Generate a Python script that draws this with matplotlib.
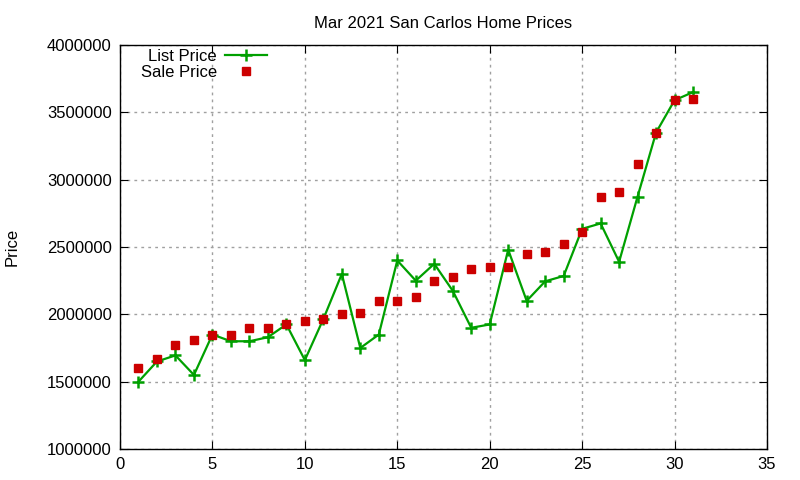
import numpy as np
import matplotlib
matplotlib.use("Agg")
import matplotlib.pyplot as plt

plt.rcParams['font.family'] = ['Liberation Sans', 'DejaVu Sans']

# Data ------------------------------------------------------------------------
days = list(range(1, 32))
listPrice = [1500000, 1650000, 1695000, 1550000, 1850000, 1800000, 1800000,
             1830000, 1925000, 1660000, 1965000, 2300000, 1750000, 1850000,
             2400000, 2250000, 2375000, 2175000, 1900000, 1925000, 2480000,
             2100000, 2245000, 2285000, 2635000, 2675000, 2390000, 2875000,
             3350000, 3590000, 3650000]
salePrice = [1600000, 1670000, 1775000, 1810000, 1850000, 1850000, 1900000,
             1900000, 1925000, 1950000, 1965000, 2000000, 2010000, 2100000,
             2100000, 2130000, 2250000, 2275000, 2335000, 2350000, 2350000,
             2450000, 2460000, 2525000, 2615000, 2875000, 2905000, 3120000,
             3350000, 3590000, 3600000]

xTicks = np.arange(0, 36, 5)
yTicks = np.arange(1000000, 4000001, 500000)

# Plot ------------------------------------------------------------------------
fig = plt.figure(figsize=(8, 4.8), dpi=100)
ax = fig.add_axes([120/800, 1 - 449/480, (767-120)/800, (449-45)/480])

ax.plot(days, listPrice, color='#00a000', lw=1.6, marker='+', ms=8, mew=1.8,
        label='List Price')
ax.plot(days, salePrice, color='#cc0000', ls='none', marker='s', ms=6,
        label='Sale Price')

ax.set_xlim(0, 35)
ax.set_ylim(1000000, 4000000)
ax.set_xticks(xTicks)
ax.set_yticks(yTicks)
ax.set_yticklabels([str(v) for v in yTicks])
ax.tick_params(direction='in', top=True, right=True, labelsize=12, length=6,
               pad=6)
ax.grid(True, color='#a0a0a0', ls=(0, (2, 3)), lw=1)
for s in ax.spines.values():
    s.set_linewidth(1)

ax.set_title("Mar 2021 San Carlos Home Prices", fontsize=12, pad=12)
fig.text(12/800, 1 - 247/480, "Price", rotation=90, fontsize=12,
         ha='center', va='center')

ax.legend(loc='upper right', bbox_to_anchor=(267/800, 1 - 49/480),
          bbox_transform=fig.transFigure, frameon=False,
          markerfirst=False, fontsize=12, handlelength=2.5, labelspacing=0.05,
          borderaxespad=0, borderpad=0, handletextpad=0.5)

fig.savefig("out.png")
